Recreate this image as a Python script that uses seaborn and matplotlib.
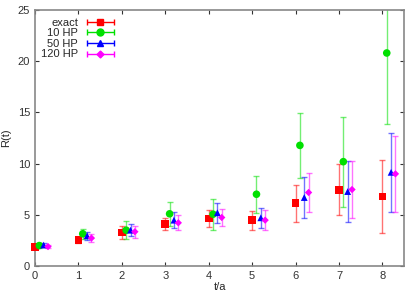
import numpy as np
import pandas as pd
import matplotlib
matplotlib.use("Agg")
import matplotlib.pyplot as plt
from matplotlib.legend_handler import HandlerErrorbar
from matplotlib.container import ErrorbarContainer
import seaborn as sns

# data
t = [0, 1, 2, 3, 4, 5, 6, 7, 8]
exact = [1.85, 2.57, 3.28, 4.13, 4.64, 4.48, 6.13, 7.44, 6.79]
exact_err = [0.12, 0.3, 0.6, 0.6, 0.85, 0.93, 1.8, 2.5, 3.6]
hp10 = [2.0, 3.15, 3.5, 5.1, 5.06, 7.01, 11.78, 10.19, 20.8]
hp10_err = [0.25, 0.5, 0.9, 1.15, 1.5, 1.8, 3.2, 4.4, 6.9]
hp50 = [2.05, 2.95, 3.5, 4.48, 5.2, 4.71, 6.69, 7.27, 9.15]
hp50_err = [0.2, 0.4, 0.6, 0.75, 1.0, 1.0, 2.0, 3.0, 3.85]
hp120 = [1.9, 2.73, 3.35, 4.22, 4.74, 4.48, 7.18, 7.47, 9.0]
hp120_err = [0.15, 0.43, 0.6, 0.75, 0.87, 0.95, 1.9, 2.8, 3.7]

series = [
    ("exact", exact, exact_err, 0.0, "#ff0000", "s", 5, 30),
    ("10 HP", hp10, hp10_err, 0.1, "#00e000", "o", 5, 30),
    ("50 HP", hp50, hp50_err, 0.2, "#0000ff", "^", 4.5, 24),
    ("120 HP", hp120, hp120_err, 0.3, "#ff00ff", "D", 3.5, 14),
]

sns.set_style("ticks")
plt.rcParams['font.family'] = ['Liberation Sans', 'DejaVu Sans']
plt.rcParams['font.size'] = 8

fig = plt.figure(figsize=(4.19, 2.93), dpi=100)
ax = fig.add_axes([0.0835, 0.092, 0.881, 0.874])

rows = []
for name, vals, errs, shift, color, marker, ms, s in series:
    x = np.array(t) + shift
    ax.errorbar(x, vals, yerr=errs, fmt="none", ecolor=color, alpha=0.55,
                elinewidth=1, capsize=2, capthick=1)
    for xi, v in zip(x, vals):
        rows.append({"t": xi, "R": v, "set": name})

df = pd.DataFrame(rows)
palette = {s[0]: s[4] for s in series}
markers = {s[0]: s[5] for s in series}
sizes = {s[0]: s[7] for s in series}
sns.scatterplot(data=df, x="t", y="R", hue="set", style="set", size="set",
                palette=palette, markers=markers, sizes=sizes, linewidth=0,
                legend=False, ax=ax, zorder=3, clip_on=False)

handles = []
for name, vals, errs, shift, color, marker, ms, s in series:
    h = ax.errorbar([np.nan], [np.nan], xerr=[1.0], fmt=marker, color=color,
                    ms=ms, ecolor=color, elinewidth=1, capsize=2, label=name)
    handles.append(h)
leg = ax.legend(handles=handles, loc="upper left", frameon=False,
                markerfirst=False, handlelength=2.8, handletextpad=0.6,
                borderaxespad=0.3, labelspacing=0.05, fontsize=8,
                bbox_to_anchor=(-0.005, 1.0),
                handler_map={ErrorbarContainer: HandlerErrorbar(xerr_size=1.2)})

ax.set_xlim(0, 8.5)
ax.set_ylim(0, 25)
ax.set_xticks(range(0, 9))
ax.set_yticks(range(0, 26, 5))
ax.tick_params(direction="in", top=True, right=True, length=3,
               labelsize=8, colors="#333333", width=0.8)
for sp in ax.spines.values():
    sp.set_color("#888888")
    sp.set_linewidth(1.2)
ax.set_xlabel("t/a", fontsize=8, labelpad=1)
ax.set_ylabel("R(t)", fontsize=8, labelpad=5)

fig.savefig("out.png", dpi=100)
